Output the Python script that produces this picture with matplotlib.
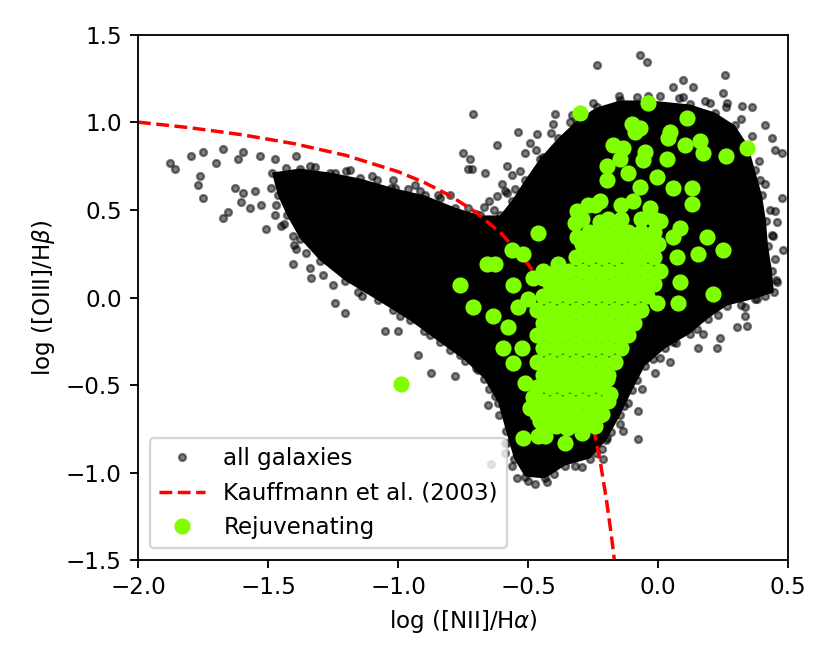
import matplotlib
matplotlib.use("Agg")
import matplotlib.pyplot as plt

# ---- Dense core of the "all galaxies" cloud (outline) ----
core_x = [-1.485, -1.377, -1.262, -1.146, -1.012, -0.896, -0.781, -0.685, -0.608, -0.562,
          -0.512, -0.454, -0.385, -0.312, -0.235, -0.146, -0.031, 0.123, 0.219, 0.296,
          0.346, 0.373, 0.400, 0.415, 0.423, 0.438, 0.446, 0.373, 0.265, 0.192,
          0.123, 0.027, -0.050, -0.100, -0.146, -0.200, -0.262, -0.358, -0.435, -0.512,
          -0.554, -0.585, -0.615, -0.669, -0.742, -0.838, -0.954, -1.077, -1.204, -1.300,
          -1.377, -1.427, -1.462]
core_y = [0.714, 0.737, 0.714, 0.680, 0.623, 0.583, 0.514, 0.469, 0.469, 0.554,
          0.669, 0.794, 0.909, 1.011, 1.086, 1.126, 1.126, 1.103, 1.057, 0.983,
          0.869, 0.726, 0.583, 0.440, 0.297, 0.154, 0.029, -0.006, -0.046, -0.120,
          -0.206, -0.291, -0.389, -0.531, -0.674, -0.817, -0.920, -0.960, -1.034, -1.023,
          -0.920, -0.760, -0.600, -0.463, -0.360, -0.257, -0.131, -0.017, 0.097, 0.211,
          0.337, 0.469, 0.583]

# ---- Individual "all galaxies" points around the edges ----
gal_x = [-1.877, -1.858, -1.796, -1.750, -1.762, -1.769, -1.750, -1.700, -1.673, -1.615,
         -1.596, -1.531, -1.473, -1.392, -1.627, -1.596, -1.604, -1.569, -1.527, -1.673,
         -1.654, -1.508, -1.550, -1.488, -1.473, -1.450, -1.404, -1.392, -1.404, -1.354,
         -1.335, -1.288, -1.242, -1.019, -1.027, -0.846, -0.750, -0.731, -1.338, -1.185,
         -1.100, -0.935, -0.800, -0.915,
         -1.242, -1.204, -1.050, -1.000, -0.923, -0.873, -0.781, -0.654, -0.588, -0.642,
         -0.588, -1.154, -0.992, -0.877, -0.762, -0.692, -0.627,
         -0.712, -0.723, -0.715, -0.665, -0.619, -0.538, -0.581, -0.492, -0.512, -0.465,
         -0.396, -0.481, -0.588, -0.531, -0.442, -0.404, -0.338, -0.250, -0.235, -0.069,
         -0.042, -0.081, 0.008, 0.096, 0.200,
         0.058, 0.096, 0.135, 0.258, 0.250, 0.265, 0.323, 0.362, 0.438, 0.450,
         0.477, 0.477, 0.450, 0.458, 0.442, 0.458, 0.419, 0.365, 0.412, 0.392, 0.481,
         -0.077, -0.077, -0.062, -0.135, -0.146, -0.196, -0.215, -0.212, -0.292, -0.427,
         -0.473, -0.542, 0.046, 0.154, 0.227, 0.238, 0.304, 0.342, 0.335, 0.335,
         0.381, 0.173, 0.058, 0.008, -0.012, -0.115]
gal_y = [0.766, 0.737, 0.811, 0.829, 0.697, 0.640, 0.571, 0.766, 0.846, 0.794,
         0.829, 0.811, 0.794, 0.811, 0.623, 0.600, 0.543, 0.509, 0.526, 0.457,
         0.486, 0.394, 0.611, 0.623, 0.469, 0.411, 0.354, 0.280, 0.194, 0.257,
         0.109, 0.126, 0.714, 0.669, 0.623, 0.583, 0.823, 0.737, 0.754, 0.726,
         0.697, 0.640, 0.583, 0.611,
         -0.029, -0.086, -0.189, -0.189, -0.331, -0.429, -0.446, -0.617, -0.829, -0.949,
         -0.886, 0.029, -0.103, -0.217, -0.331, -0.417, -0.560,
         1.046, 0.794, 0.737, 0.714, 0.869, 0.943, 0.754, 0.880, 0.823, 0.937,
         1.051, 0.669, 0.611, 0.554, 0.800, 0.994, 1.000, 1.051, 1.326, 1.383,
         1.343, 1.143, 1.154, 1.143, 1.114,
         1.200, 1.240, 1.200, 1.269, 1.166, 1.114, 1.097, 1.086, 0.914, 0.840,
         0.823, 0.566, 0.497, 0.429, 0.354, 0.086, 0.126, 0.200, 0.983, 0.669, 0.269,
         -0.646, -0.806, -0.520, -0.760, -0.720, -0.800, -0.863, -0.920, -0.971, -1.057,
         -1.063, -1.029, -0.371, -0.291, -0.286, -0.234, -0.171, -0.160, -0.103, -0.057,
         -0.006, -0.206, -0.257, -0.343, -0.429, -0.600]

# ---- "all galaxies" points forming the ragged rim of the dense cloud ----
rim_x = [-1.43, -1.32, -1.20, -1.08, -0.96, -0.84, -0.73,
         -1.47, -1.44, -1.40, -1.34, -1.25, -1.14, -1.02, -0.90, -0.80, -0.70, -0.65,
         -0.61, -0.58, -0.56,
         -0.50, -0.40, -0.32, -0.24, -0.18, -0.13, -0.08, -0.02, 0.07, 0.15, 0.23, 0.32, 0.41,
         0.455, 0.45, 0.44, 0.43, 0.41, 0.39, 0.36, 0.32, 0.26, 0.18, 0.08, -0.04, -0.15,
         -0.25, -0.33, -0.41, -0.47, -0.53, -0.58, -0.63, -0.70,
         -0.65, -0.60, -0.56, -0.62, -0.67, -0.55]
rim_y = [0.74, 0.745, 0.72, 0.67, 0.62, 0.57, 0.51,
         0.53, 0.42, 0.30, 0.17, 0.07, 0.01, -0.07, -0.19, -0.30, -0.40, -0.52,
         -0.67, -0.83, -0.96,
         -1.05, -1.01, -0.96, -0.89, -0.77, -0.62, -0.47, -0.35, -0.26, -0.18, -0.10, -0.04, 0.01,
         0.10, 0.22, 0.36, 0.50, 0.65, 0.78, 0.92, 1.02, 1.09, 1.12, 1.14, 1.15, 1.15,
         1.11, 1.04, 0.94, 0.84, 0.72, 0.60, 0.50, 0.48,
         0.55, 0.65, 0.70, 0.58, 0.52, 0.62]

# ---- Kauffmann et al. (2003) demarcation ----
kauff_x = [-2.0, -1.8, -1.6, -1.4, -1.2, -1.0, -0.9, -0.8, -0.7, -0.6,
           -0.5, -0.45, -0.4, -0.35, -0.3, -0.25, -0.22, -0.2, -0.18, -0.168]
kauff_y = [1.002, 0.970, 0.930, 0.879, 0.812, 0.719, 0.658, 0.582, 0.487, 0.362,
           0.191, 0.080, -0.056, -0.225, -0.443, -0.733, -0.959, -1.140, -1.352, -1.498]

# ---- Rejuvenating galaxies ----
rej_x = [-0.300, -0.038, -0.100, -0.069, -0.088, 0.112, 0.046, 0.038, 0.104, 0.162,
         0.173, 0.262, 0.342, -0.173, -0.135, -0.050, -0.146, 0.035, -0.196, -0.058,
         -0.004, -0.115, -0.196, 0.058, 0.131, 0.131, -0.069, -0.096, -0.223, -0.269,
         -0.312, -0.319, -0.462, -0.562, -0.519, -0.223, -0.158, -0.031, 0.008, 0.085,
         0.058, -0.312, 0.188, 0.154, 0.250, -0.385, -0.481, -0.442, -0.558, -0.262,
         -0.185, -0.108, -0.019, 0.073, 0.085, 0.212, -0.096,
         -0.658, -0.627, -0.762, -0.712, -0.635, -0.577, -0.538, -0.500, -0.596, -0.523,
         -0.558, -0.512, -0.481, -0.492, -0.454, -0.519, -0.462, -0.435, -0.358, -0.292,
         -0.350, -0.223, -0.250, -0.185, -0.196, -0.004, 0.077, -0.377, -0.988,
         # dense core
         -0.242, -0.142,
         -0.292, -0.192, -0.142, -0.067, -0.017,
         -0.267, -0.217, -0.167, -0.117, -0.067, -0.017,
         -0.292, -0.242, -0.192, -0.142, -0.092, -0.042, 0.000,
         -0.317, -0.267, -0.217, -0.167, -0.117, -0.067, -0.017,
         -0.442, -0.392, -0.342, -0.292, -0.242, -0.192, -0.142, -0.092, -0.042, 0.008,
         -0.417, -0.367, -0.317, -0.267, -0.217, -0.167, -0.117, -0.067, -0.017,
         -0.442, -0.392, -0.342, -0.292, -0.242, -0.192, -0.142, -0.092, -0.042,
         -0.467, -0.417, -0.367, -0.317, -0.267, -0.217, -0.167, -0.117, -0.067,
         -0.442, -0.392, -0.342, -0.292, -0.242, -0.192, -0.142, -0.092,
         -0.467, -0.417, -0.367, -0.317, -0.267, -0.217, -0.167, -0.117,
         -0.442, -0.392, -0.342, -0.292, -0.242, -0.192, -0.142,
         -0.467, -0.417, -0.367, -0.317, -0.267, -0.217, -0.167,
         -0.442, -0.392, -0.342, -0.292, -0.242, -0.192,
         -0.467, -0.417, -0.367, -0.317, -0.267, -0.217,
         -0.442, -0.392, -0.342, -0.292, -0.242, -0.192,
         -0.467, -0.417, -0.367, -0.317, -0.267, -0.217,
         -0.442, -0.392, -0.342, -0.292, -0.242]
rej_y = [1.057, 1.109, 0.994, 0.971, 0.943, 1.023, 0.943, 0.914, 0.869, 0.897,
         0.823, 0.811, 0.857, 0.869, 0.857, 0.829, 0.794, 0.794, 0.754, 0.783,
         0.686, 0.714, 0.669, 0.623, 0.623, 0.537, 0.629, 0.554, 0.554, 0.526,
         0.497, 0.423, 0.371, 0.269, 0.251, 0.429, 0.423, 0.514, 0.440, 0.400,
         0.343, 0.343, 0.343, 0.251, 0.274, 0.194, 0.114, 0.114, 0.069, 0.286,
         0.286, 0.326, 0.286, 0.229, 0.086, 0.020, 0.194,
         0.194, 0.189, 0.069, -0.057, -0.103, -0.171, -0.057, -0.006, -0.291, -0.291,
         -0.377, -0.486, -0.571, -0.629, -0.703, -0.800, -0.789, -0.789, -0.834, -0.777,
         -0.743, -0.674, -0.629, -0.549, -0.463, -0.034, -0.034, 0.126, -0.497,
         # dense core
         0.526, 0.526,
         0.451, 0.451, 0.451, 0.451, 0.451,
         0.377, 0.377, 0.377, 0.377, 0.377, 0.377,
         0.303, 0.303, 0.303, 0.303, 0.303, 0.303, 0.303,
         0.229, 0.229, 0.229, 0.229, 0.229, 0.229, 0.229,
         0.154, 0.154, 0.154, 0.154, 0.154, 0.154, 0.154, 0.154, 0.154, 0.154,
         0.080, 0.080, 0.080, 0.080, 0.080, 0.080, 0.080, 0.080, 0.080,
         0.006, 0.006, 0.006, 0.006, 0.006, 0.006, 0.006, 0.006, 0.006,
         -0.069, -0.069, -0.069, -0.069, -0.069, -0.069, -0.069, -0.069, -0.069,
         -0.143, -0.143, -0.143, -0.143, -0.143, -0.143, -0.143, -0.143,
         -0.217, -0.217, -0.217, -0.217, -0.217, -0.217, -0.217, -0.217,
         -0.291, -0.291, -0.291, -0.291, -0.291, -0.291, -0.291,
         -0.366, -0.366, -0.366, -0.366, -0.366, -0.366, -0.366,
         -0.440, -0.440, -0.440, -0.440, -0.440, -0.440,
         -0.514, -0.514, -0.514, -0.514, -0.514, -0.514,
         -0.589, -0.589, -0.589, -0.589, -0.589, -0.589,
         -0.663, -0.663, -0.663, -0.663, -0.663, -0.663,
         -0.737, -0.737, -0.737, -0.737, -0.737]

x_ticks = [-2.0, -1.5, -1.0, -0.5, 0.0, 0.5]
y_ticks = [-1.5, -1.0, -0.5, 0.0, 0.5, 1.0, 1.5]

fig = plt.figure(figsize=(5, 4), dpi=166)
ax = fig.add_axes([0.1663, 0.1566, 0.7831, 0.7907])

ax.fill(core_x, core_y, color='k', lw=0, zorder=1)
ax.plot(core_x, core_y, 'o', color='k', alpha=0.5, ms=3, zorder=1)
ax.plot(rim_x, rim_y, 'o', color='k', alpha=0.5, ms=3, zorder=1)
gal, = ax.plot(gal_x, gal_y, 'o', color='k', alpha=0.5, ms=3, zorder=1,
               label='all galaxies')
kl, = ax.plot(kauff_x, kauff_y, '--', color='r', lw=1.5, zorder=2,
              label='Kauffmann et al. (2003)')
rj, = ax.plot(rej_x, rej_y, 'o', color='#7FFF00', ms=6, zorder=3,
              label='Rejuvenating')

ax.set_xlim(-2.0, 0.5)
ax.set_ylim(-1.5, 1.5)
ax.set_xticks(x_ticks)
ax.set_yticks(y_ticks)
ax.set_xlabel('log ([NII]/H$\\alpha$)')
ax.set_ylabel('log ([OIII]/H$\\beta$)')
ax.legend(handles=[gal, kl, rj], loc='lower left')

fig.savefig('out.png', dpi=166)
